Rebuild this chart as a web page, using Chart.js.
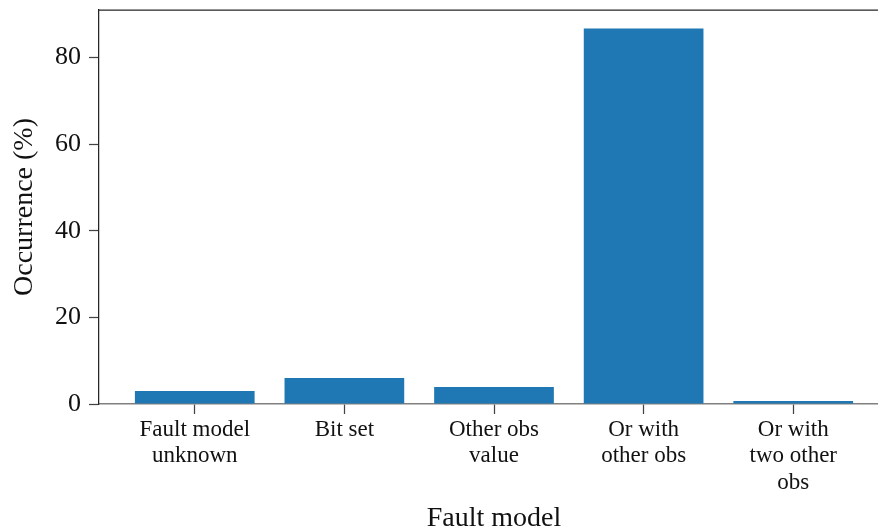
<!DOCTYPE html>
<html>
<head>
<meta charset="utf-8">
<script src="https://cdn.jsdelivr.net/npm/chart.js@4/dist/chart.umd.min.js"></script>
<style>
  html, body { margin: 0; padding: 0; background: #ffffff; overflow: hidden; }
  #wrap { width: 878px; height: 528px; overflow: hidden; position: relative; }
  canvas { display: block; }
</style>
</head>
<body>
<div id="wrap"><canvas id="c" width="900" height="528" style="width:900px;height:528px"></canvas></div>
<script>
const categories = [
  ["Fault model", "unknown"],
  ["Bit set"],
  ["Other obs", "value"],
  ["Or with", "other obs"],
  ["Or with", "two other", "obs"]
];
const occurrence = [3.0, 6.0, 3.9, 86.7, 0.7];
const yTicks = [0, 20, 40, 60, 80];
const xTitle = "Fault model";
const yTitle = "Occurrence (%)";

const FONT = "'Liberation Serif', 'Times New Roman', serif";

const spinePlugin = {
  id: 'spines',
  afterDraw(chart) {
    const a = chart.chartArea, ctx = chart.ctx;
    ctx.save();
    ctx.strokeStyle = '#262626';
    ctx.lineWidth = 1.25;
    ctx.beginPath();
    ctx.moveTo(a.left, a.top);
    ctx.lineTo(a.right, a.top);
    ctx.lineTo(a.right, a.bottom);
    ctx.stroke();
    ctx.restore();
  }
};

new Chart(document.getElementById('c'), {
  type: 'bar',
  data: {
    datasets: [{
      data: occurrence.map((v, i) => ({ x: i, y: v })),
      backgroundColor: '#1f77b4',
      borderWidth: 0,
      barPercentage: 0.8,
      categoryPercentage: 1.0
    }]
  },
  options: {
    responsive: false,
    animation: false,
    devicePixelRatio: 1,
    layout: { padding: { top: 10, right: 11, left: 0, bottom: 0 } },
    plugins: { legend: { display: false }, tooltip: { enabled: false } },
    scales: {
      x: {
        type: 'linear',
        offset: false,
        min: -0.64,
        max: 4.64,
        afterFit(scale) { scale.height = 124; scale.paddingLeft = 0; scale.paddingRight = 0; },
        afterBuildTicks(scale) { scale.ticks = categories.map((_, i) => ({ value: i })); },
        grid: { display: true, offset: false, drawOnChartArea: false, drawTicks: true, tickLength: 10, tickColor: '#444444', tickWidth: 1.25 },
        border: { display: true, color: '#808080', width: 1.5 },
        ticks: {
          autoSkip: false,
          maxRotation: 0,
          padding: 3,
          color: '#111111',
          font: { family: FONT, size: 23, lineHeight: 1.14 },
          callback(value) { return categories[value] || ''; }
        },
        title: {
          display: true,
          text: xTitle,
          color: '#111111',
          font: { family: FONT, size: 28, lineHeight: 0.65 },
          padding: 0
        }
      },
      y: {
        type: 'linear',
        min: 0,
        max: 91,
        afterFit(scale) { scale.width = 99; scale.paddingTop = 0; scale.paddingBottom = 0; },
        afterBuildTicks(scale) { scale.ticks = yTicks.map(v => ({ value: v })); },
        grid: { display: true, drawOnChartArea: false, drawTicks: true, tickLength: 10, tickColor: '#444444', tickWidth: 1.25 },
        border: { display: true, color: '#262626', width: 1.25 },
        ticks: {
          padding: 8,
          color: '#111111',
          font: { family: FONT, size: 26 }
        },
        title: {
          display: true,
          text: yTitle,
          color: '#111111',
          font: { family: FONT, size: 28, lineHeight: 1.2 },
          padding: { top: 8, bottom: 0 }
        }
      }
    }
  },
  plugins: [spinePlugin]
});
</script>
</body>
</html>
